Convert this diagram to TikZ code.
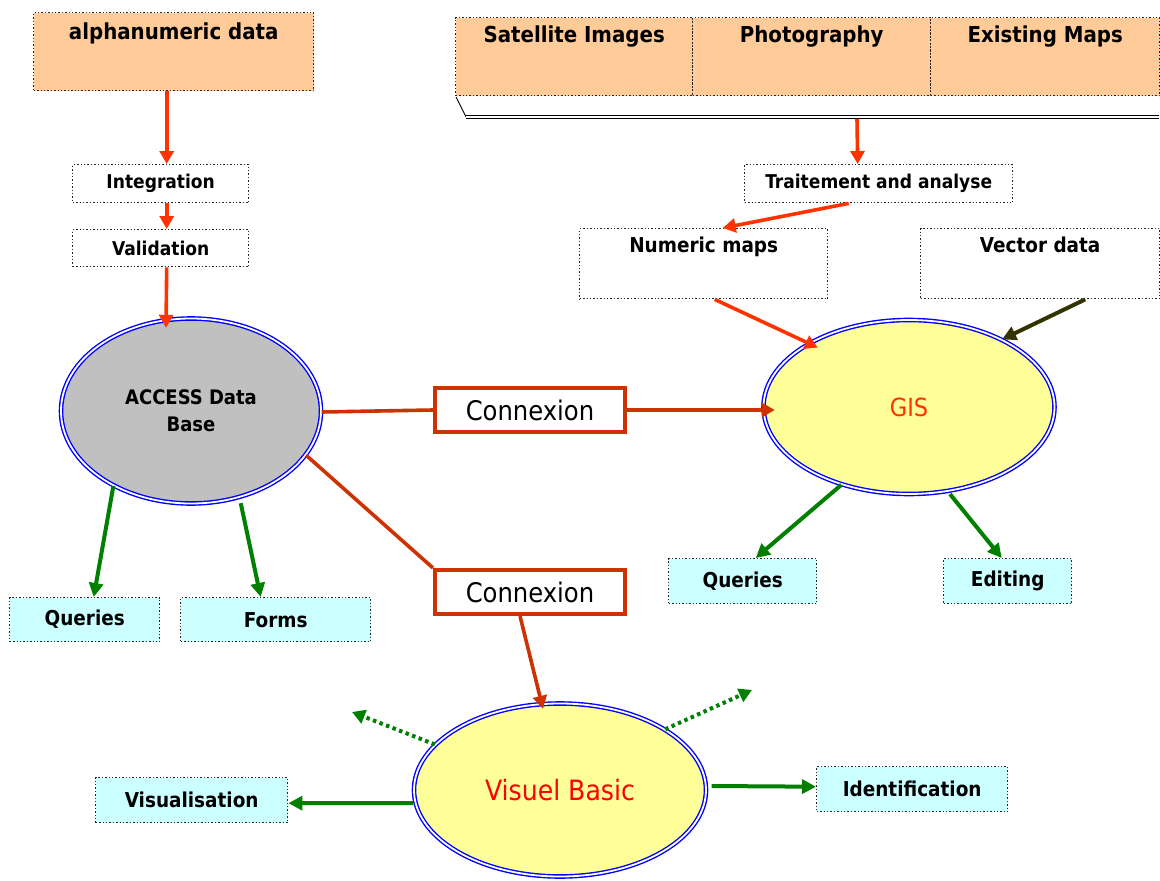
\documentclass[tikz,border=0pt]{standalone}
\usepackage{fontspec}
\setmainfont{DejaVu Sans Condensed}
\usetikzlibrary{arrows.meta,shapes.geometric}
\definecolor{orfill}{HTML}{FFCC99}
\definecolor{cyfill}{HTML}{CCFFFF}
\definecolor{yefill}{HTML}{FFFF99}
\definecolor{grfill}{HTML}{C0C0C0}
\definecolor{arrred}{HTML}{FF3300}
\definecolor{conred}{HTML}{CC3300}
\definecolor{grarr}{HTML}{007F00}
\definecolor{olive}{HTML}{333300}
\definecolor{ellblue}{HTML}{0000FF}
\tikzset{
  dbox/.style={draw=black!85, dotted, line width=1.4pt, inner sep=0pt, anchor=north west},
  stxt/.style={font=\fontsize{19}{22}\selectfont\bfseries, inner sep=0pt},
  btxt/.style={font=\fontsize{20.5}{24}\selectfont\bfseries, inner sep=0pt},
  bigtxt/.style={font=\fontsize{22}{26}\selectfont\bfseries, inner sep=0pt},
  conbox/.style={draw=conred, line width=4pt, fill=white, minimum width=190pt, minimum height=44pt, font=\fontsize{27}{30}\selectfont, inner sep=0pt},
  dell/.style={ellipse, draw=ellblue, double=white, double distance=1.8pt, line width=1.4pt, inner sep=0pt},
  redarr/.style={draw=arrred, line width=3.6pt, -{Triangle[length=13pt,width=14pt]}},
  conarr/.style={draw=conred, line width=3.6pt, -{Triangle[length=13pt,width=14pt]}},
  conline/.style={draw=conred, line width=3.6pt},
  grnarr/.style={draw=grarr, line width=4pt, -{Triangle[length=14pt,width=14pt]}},
  dotarr/.style={draw=grarr, line width=4pt, dash pattern=on 3.5pt off 3.5pt, -{Triangle[length=13pt,width=14pt]}},
  oarr/.style={draw=olive, line width=4pt, -{Triangle[length=14pt,width=14pt]}},
}
\begin{document}
\begin{tikzpicture}[x=1pt,y=-1pt]
\useasboundingbox[fill=white] (0,0) rectangle (1160,881);

% left top
\node[dbox, fill=orfill, minimum width=280pt, minimum height=78pt] (alpha) at (33,12) {};
\node[bigtxt, anchor=north] at ([yshift=-11pt]alpha.north) {alphanumeric data};
\node[dbox, minimum width=176pt, minimum height=38pt, stxt] (integ) at (72,164) {Integration};
\node[dbox, minimum width=176pt, minimum height=37pt, stxt] (valid) at (72,229) {Validation};

% right top band
\node[dbox, fill=orfill, minimum width=237pt, minimum height=78pt] (sat) at (455,17) {};
\node[dbox, fill=orfill, minimum width=238pt, minimum height=78pt] (pho) at (692,17) {};
\node[dbox, fill=orfill, minimum width=229pt, minimum height=78pt] (exi) at (930,17) {};
\node[bigtxt, anchor=north] at ([yshift=-9pt]sat.north) {Satellite Images};
\node[bigtxt, anchor=north] at ([yshift=-9pt]pho.north) {Photography};
\node[bigtxt, anchor=north] at ([yshift=-9pt]exi.north) {Existing Maps};
\draw[line width=0.9pt] (456,97) -- (466,117);
\draw[line width=0.9pt, double, double distance=1.4pt] (466,117) -- (1159,117);
\coordinate (band) at (857,119);

\node[dbox, minimum width=268pt, minimum height=38pt, stxt] (trait) at (744,164) {Traitement and analyse};
\node[dbox, minimum width=248pt, minimum height=70pt] (nmap) at (579,228) {};
\node[btxt, anchor=north] at ([yshift=-9pt]nmap.north) {Numeric maps};
\node[dbox, minimum width=239pt, minimum height=70pt] (vect) at (920,228) {};
\node[btxt, anchor=north] at ([yshift=-9pt]vect.north) {Vector data};

% ellipses
\node[dell, fill=grfill, minimum width=260pt, minimum height=185pt, align=center, font=\fontsize{20}{27}\selectfont\bfseries] (acc) at (191,411) {ACCESS Data\\Base};
\node[dell, fill=yefill, minimum width=291pt, minimum height=174pt, text=arrred, font=\fontsize{25}{30}\selectfont] (gis) at (909,407) {GIS};
\node[dell, fill=yefill, minimum width=292pt, minimum height=173pt, text=red, font=\fontsize{28}{32}\selectfont] (vb) at (560,790) {Visuel Basic};

% connexion boxes
\node[conbox] (c1) at (530,410) {Connexion};
\node[conbox] (c2) at (530,592) {Connexion};

% cyan boxes
\node[dbox, fill=cyfill, minimum width=150pt, minimum height=44pt, btxt] (q1) at (9,597) {Queries};
\node[dbox, fill=cyfill, minimum width=190pt, minimum height=44pt, btxt] (forms) at (180,597) {Forms};
\node[dbox, fill=cyfill, minimum width=148pt, minimum height=45pt, btxt] (q2) at (668,558) {Queries};
\node[dbox, fill=cyfill, minimum width=128pt, minimum height=45pt, btxt] (edit) at (943,558) {Editing};
\node[dbox, fill=cyfill, minimum width=192pt, minimum height=45pt, btxt] (vis) at (95,777) {Visualisation};
\node[dbox, fill=cyfill, minimum width=191pt, minimum height=45pt, btxt] (ident) at (816,766) {Identification};

\coordinate (vbul) at (352,712);
\coordinate (vbur) at (752,690);

% connectors
\draw[redarr] ([xshift=-7pt]alpha.south) -- ([xshift=6pt]integ.north);
\draw[redarr] ([xshift=6pt]integ.south) -- ([xshift=6pt]valid.north);
\draw[redarr] ([xshift=6pt]valid.south) -- ([xshift=-25pt,yshift=-10pt]acc.north);
\draw[redarr] (band) -- ([xshift=-21pt]trait.north);
\draw[redarr] ([xshift=-30pt]trait.south) -- ([xshift=19pt]nmap.north);
\draw[redarr] ([xshift=11pt]nmap.south) -- ([xshift=8pt,yshift=-5pt]gis.147);
\draw[oarr] ([xshift=45pt]vect.south) -- (gis.36);

\draw[conline] ([yshift=-1pt]acc.east) -- (c1.west);
\draw[conarr] (c1.east) -- ([xshift=12pt,yshift=-3pt]gis.west);
\draw[conline] (acc.339) -- (c2.north west);
\draw[conarr] ([xshift=-10pt]c2.south) -- ([xshift=-17pt,yshift=-6pt]vb.north);

\draw[grnarr] (acc.224) -- ([xshift=9pt]q1.north);
\draw[grnarr] ([yshift=-6pt]acc.300) -- ([xshift=-15pt]forms.north);
\draw[grnarr] (gis.229) -- ([xshift=13pt]q2.north);
\draw[grnarr] ([yshift=-3pt]gis.296) -- ([xshift=-6pt]edit.north);

\draw[dotarr] (vb.160) -- (vbul);
\draw[dotarr] (vb.30) -- (vbur);
\draw[grnarr] ([yshift=-13pt]vb.west) -- ([yshift=-3pt]vis.east);
\draw[grnarr] ([xshift=5pt,yshift=4pt]vb.east) -- ([yshift=2.5pt]ident.west);
\end{tikzpicture}
\end{document}
